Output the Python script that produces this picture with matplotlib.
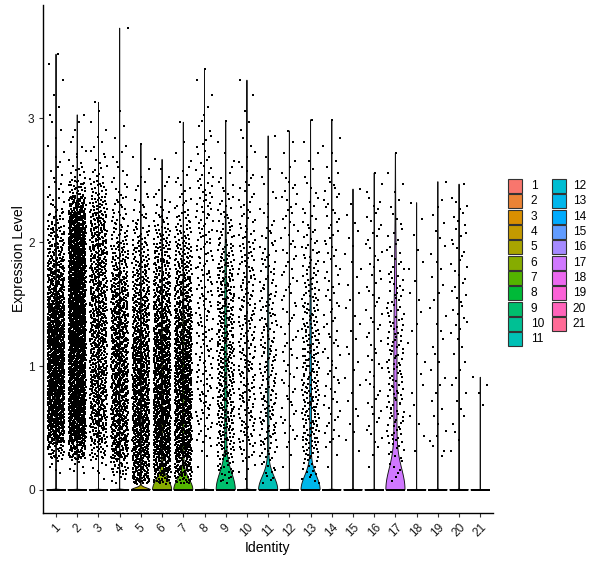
import numpy as np
import matplotlib
matplotlib.use("Agg")
import matplotlib.pyplot as plt
from matplotlib.patches import Polygon, Rectangle

plt.rcParams['font.family'] = ['Liberation Sans', 'DejaVu Sans']

# ---------------- data ----------------
clusters = ['1', '2', '3', '4', '5', '6', '7', '8', '9', '10', '11',
            '12', '13', '14', '15', '16', '17', '18', '19', '20', '21']

# expression bins: 0.05-0.125, then steps of 0.125 up to 3.75
bin_edges = [0.05, 0.125, 0.25, 0.375, 0.5, 0.625, 0.75, 0.875, 1.0,
             1.125, 1.25, 1.375, 1.5, 1.625, 1.75, 1.875, 2.0, 2.125,
             2.25, 2.375, 2.5, 2.625, 2.75, 2.875, 3.0, 3.125, 3.25,
             3.375, 3.5, 3.625, 3.75]

# number of cells with zero expression per cluster
zero_counts = [4500, 6400, 2800, 2900, 2680, 1840, 1820, 700, 720, 850,
               440, 350, 540, 350, 150, 250, 241, 100, 150, 200, 100]

# maximum expression per cluster
max_expr = [3.52, 3.03, 3.13, 3.73, 2.79, 2.67, 2.97, 3.40, 2.98, 3.31,
            2.86, 2.90, 2.99, 2.99, 2.43, 2.56, 2.72, 2.32, 2.49, 2.47, 0.91]

# counts of non-zero cells per expression bin (one list per cluster)
nonzero_counts = [
    [0, 5, 30, 78, 100, 108, 110, 110, 110, 108, 104, 96, 74, 60, 48, 36, 28, 20, 9, 6, 4, 3, 2, 2, 2, 1, 1, 1, 1],
    [0, 7, 54, 95, 115, 120, 120, 120, 120, 120, 120, 120, 120, 120, 118, 114, 108, 96, 56, 26, 10, 5, 3, 2, 1],
    [1, 6, 23, 39, 50, 52, 52, 52, 52, 52, 52, 50, 50, 47, 45, 44, 42, 36, 26, 17, 8, 5, 3, 2, 1, 1],
    [5, 26, 52, 62, 65, 65, 65, 65, 62, 60, 57, 55, 52, 42, 32, 26, 17, 13, 9, 6, 4, 3, 2, 1, 1, 0, 0, 0, 0, 1],
    [36, 62, 72, 75, 75, 75, 73, 70, 68, 65, 55, 48, 42, 35, 28, 22, 16, 10, 6, 4, 2, 1, 1],
    [26, 65, 78, 85, 85, 85, 83, 80, 78, 74, 65, 57, 49, 40, 34, 27, 19, 12, 6, 4, 2, 1],
    [21, 60, 78, 85, 85, 85, 83, 80, 78, 74, 65, 57, 47, 39, 31, 25, 18, 12, 8, 5, 4, 2, 1, 1],
    [0, 1, 3, 7, 10, 11, 11, 11, 11, 11, 11, 11, 11, 11, 11, 11, 11, 10, 10, 9, 7, 5, 4, 3, 2, 1, 1, 1],
    [6, 15, 22, 28, 30, 30, 30, 30, 30, 30, 29, 28, 27, 26, 21, 17, 13, 10, 7, 5, 3, 2, 1, 1],
    [1, 4, 10, 14, 16, 16, 16, 16, 16, 16, 15, 15, 14, 14, 13, 12, 10, 8, 6, 5, 4, 3, 2, 2, 1, 1, 1],
    [4, 8, 12, 15, 16, 16, 16, 15, 15, 14, 13, 12, 11, 10, 9, 8, 6, 4, 3, 2, 2, 1, 1],
    [0, 1, 2, 5, 5, 5, 5, 5, 5, 5, 5, 5, 5, 5, 5, 5, 5, 5, 5, 5, 3, 2, 1, 1],
    [5, 10, 17, 22, 22, 22, 22, 21, 20, 19, 18, 16, 14, 12, 11, 9, 7, 5, 4, 3, 2, 2, 1, 1],
    [0, 1, 2, 5, 5, 5, 5, 5, 5, 5, 5, 5, 5, 5, 5, 5, 5, 5, 5, 5, 3, 2, 2, 1],
    [0, 0, 1, 2, 2, 2, 2, 2, 2, 2, 2, 2, 2, 2, 2, 2, 2, 2, 1, 1],
    [0, 1, 2, 4, 4, 4, 4, 4, 4, 4, 4, 4, 4, 4, 4, 4, 4, 4, 4, 2, 1],
    [2, 5, 8, 12, 12, 12, 12, 12, 12, 12, 11, 10, 9, 8, 6, 5, 4, 3, 2, 2, 1, 1],
    [0, 0, 1, 1, 2, 1, 2, 1, 2, 1, 2, 1, 2, 1, 2, 1, 1, 1, 1],
    [0, 0, 3, 3, 2, 2, 2, 2, 2, 2, 2, 2, 2, 2, 2, 2, 2, 2, 2, 1],
    [0, 0, 1, 2, 2, 2, 2, 2, 2, 2, 4, 4, 4, 4, 4, 4, 4, 4, 4, 1],
    [0, 0, 0, 0, 0, 1, 2, 1],
]

y_ticks = [0, 1, 2, 3]
x_title = "Identity"
y_title = "Expression Level"


# ---------------- helpers ----------------
def hue_colors(n, h0=15, c=100, l=65):
    hues = h0 + 360.0 / n * np.arange(n)
    Xn, Yn, Zn = 0.95047, 1.0, 1.08883
    un = 4 * Xn / (Xn + 15 * Yn + 3 * Zn)
    vn = 9 * Yn / (Xn + 15 * Yn + 3 * Zn)
    M = np.array([[3.240479, -1.537150, -0.498535],
                  [-0.969256, 1.875992, 0.041556],
                  [0.055648, -0.204043, 1.057311]])
    out = []
    for h in hues:
        hr = np.radians(h)
        U, V = c * np.cos(hr), c * np.sin(hr)
        Y = ((l + 16) / 116.0) ** 3
        u = U / (13 * l) + un
        v = V / (13 * l) + vn
        X = 9 * Y * u / (4 * v)
        Z = -X / 3 - 5 * Y + 3 * Y / v
        rgb = M @ np.array([X, Y, Z])
        rgb = np.where(rgb <= 0.0031308, 12.92 * rgb,
                       1.055 * np.clip(rgb, 0, None) ** (1 / 2.4) - 0.055)
        out.append(tuple(np.clip(rgb, 0, 1)))
    return out


def radical_inverse(idx, base):
    idx = np.asarray(idx, dtype=np.int64).copy()
    res = np.zeros(len(idx))
    f = 1.0 / base
    while np.any(idx > 0):
        res += f * (idx % base)
        idx //= base
        f /= base
    return res


def expand_values(counts, vmax):
    """Cell values per bin, evenly spread inside each bin."""
    vals, bins = [], []
    last = max(i for i, c in enumerate(counts) if c > 0)
    for k, c in enumerate(counts):
        if c == 0:
            continue
        lo, hi = bin_edges[k], bin_edges[k + 1]
        if k == last:
            hi = vmax
            frac = (np.arange(c) + 1.0) / c
        else:
            frac = (np.arange(c) + 0.5) / c
        vals.append(lo + frac * (hi - lo))
        bins.append(np.full(c, k))
    return np.concatenate(vals), np.concatenate(bins)


def jitter_for(bins, offset):
    """Deterministic quasi-random horizontal jitter (Halton pairing)."""
    n = len(bins)
    gidx = np.arange(n) + 1 + offset
    h2 = radical_inverse(gidx, 2)
    h3 = radical_inverse(gidx, 3)
    jit = np.empty(n)
    for k in np.unique(bins):
        sel = np.where(bins == k)[0]
        order = np.argsort(h3[sel])
        jit[sel] = h2[sel][order]
    return (jit - 0.5) * 0.8


def bw_nrd0(allv):
    n = len(allv)
    sd = np.std(allv, ddof=1)
    q25, q75 = np.percentile(allv, [25, 75])
    lo = min(sd, (q75 - q25) / 1.34)
    if lo <= 0:
        lo = 1e-5  # Seurat adds tiny noise to values
    return 0.9 * lo * n ** -0.2


def violin_density(nz, n0, vmax):
    allv = np.concatenate([np.zeros(n0), nz])
    bw = bw_nrd0(allv)
    grid = np.linspace(0, vmax, 512)
    dens = n0 * np.exp(-0.5 * (grid / bw) ** 2)
    dens += np.exp(-0.5 * ((grid[:, None] - nz[None, :]) / bw) ** 2).sum(1)
    return grid, dens / dens.max()


colors = hue_colors(len(clusters))
PHI = 0.6180339887

# ---------------- figure ----------------
W, H = 600, 568
fig = plt.figure(figsize=(W / 100, H / 100), dpi=100)
ax = fig.add_axes([43.3 / W, 1 - 513 / H, (493 - 43.3) / W, (513 - 5) / H])

ymax_all = max(max_expr)
ax.set_ylim(-0.05 * ymax_all, ymax_all * 1.05)
ax.set_xlim(0.4, len(clusters) + 0.6)

for i, name in enumerate(clusters):
    xc = i + 1
    nz, _ = expand_values(nonzero_counts[i], max_expr[i])
    grid, w = violin_density(nz, zero_counts[i], max_expr[i])
    half = w * 0.45
    px = np.concatenate([xc - half, (xc + half)[::-1]])
    py = np.concatenate([grid, grid[::-1]])
    ax.add_patch(Polygon(np.column_stack([px, py]), closed=True,
                         facecolor=colors[i], edgecolor='#111111',
                         linewidth=0.65, zorder=2))

# jittered points (on top of the violins)
for i, name in enumerate(clusters):
    xc = i + 1
    n0 = zero_counts[i]
    jz = (np.mod(np.arange(n0) * PHI + 0.13 * i, 1.0) - 0.5) * 0.8
    ax.scatter(xc + jz, np.zeros(n0), s=3.4, marker='s', c='black',
               linewidths=0, zorder=3, antialiased=False)
    nz, bins = expand_values(nonzero_counts[i], max_expr[i])
    jx = jitter_for(bins, 37 * i)
    ax.scatter(xc + jx, nz, s=3.4, marker='s', c='black',
               linewidths=0, zorder=3, antialiased=False)

# axes styling
for side in ['top', 'right']:
    ax.spines[side].set_visible(False)
for side in ['left', 'bottom']:
    ax.spines[side].set_linewidth(1.0)
    ax.spines[side].set_color('black')

ax.set_yticks(y_ticks)
ax.set_yticklabels([str(t) for t in y_ticks], fontsize=8.6, color='#1a1a1a')
ax.set_xticks(range(1, len(clusters) + 1))
ax.set_xticklabels(clusters, fontsize=8.6, rotation=45, ha='center', va='top',
                   color='#1a1a1a')
ax.tick_params(axis='both', length=3.2, width=0.8, color='#333333')
ax.tick_params(axis='y', pad=3)
ax.tick_params(axis='x', pad=3)

fig.text(268 / W, 1 - 548 / H, x_title, ha='center', va='center', fontsize=10.1)
fig.text(19 / W, 1 - 259 / H, y_title, ha='center', va='center',
         rotation=90, fontsize=10.1)

# legend
for i, name in enumerate(clusters):
    col, row = divmod(i, 11)
    bx = 508.3 + col * 43.4
    by = 179.0 + row * 15.33
    fig.add_artist(Rectangle((bx / W, 1 - (by + 14) / H), 14 / W, 14 / H,
                             transform=fig.transFigure, facecolor=colors[i],
                             edgecolor='#333333', linewidth=0.8))
    fig.text((530.7 + col * 42.0) / W, 1 - (by + 7) / H, name,
             ha='left', va='center', fontsize=8.6)

fig.savefig("out.png", dpi=100)
